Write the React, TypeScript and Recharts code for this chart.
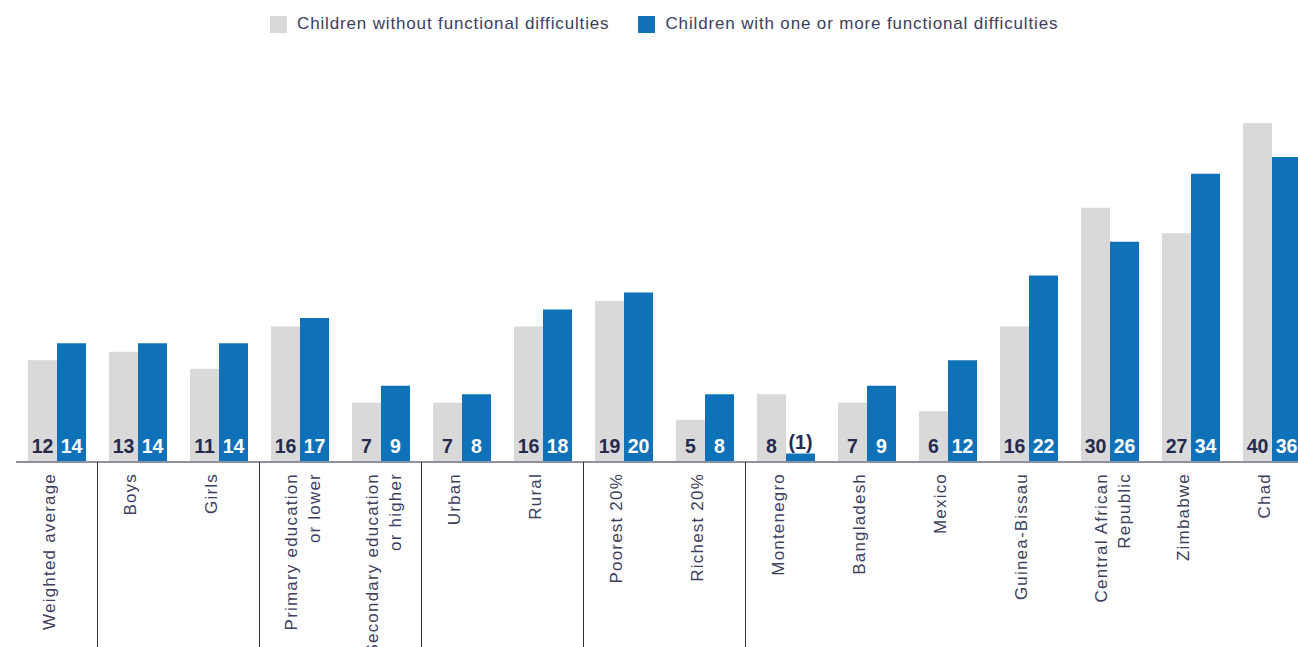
import { Bar, BarChart, LabelList, XAxis, YAxis } from "recharts";

const categories = [
  "Weighted average",
  "Boys",
  "Girls",
  "Primary education\nor lower",
  "Secondary education\nor higher",
  "Urban",
  "Rural",
  "Poorest 20%",
  "Richest 20%",
  "Montenegro",
  "Bangladesh",
  "Mexico",
  "Guinea-Bissau",
  "Central African\nRepublic",
  "Zimbabwe",
  "Chad",
];
const withoutDifficulties = [12, 13, 11, 16, 7, 7, 16, 19, 5, 8, 7, 6, 16, 30, 27, 40];
const withDifficulties = [14, 14, 14, 17, 9, 8, 18, 20, 8, 1, 9, 12, 22, 26, 34, 36];
// categories that open a new group (a divider is drawn to their left)
const groupStarts = [1, 3, 5, 7, 9];

const GREY = "#d9d9d9";
const BLUE = "#0f72b9";
const NAVY = "#262b4e";
const TEXT = "#3c405c";
const FONT = '"Liberation Sans", Arial, sans-serif';
const BAND = 81;

const data = categories.map((name, i) => ({
  name,
  without: withoutDifficulties[i],
  with: withDifficulties[i],
}));

const CategoryTick = (props: any) => {
  const { x, y, payload, index } = props;
  const lines = String(payload.value).split("\n");
  const sepX = Math.round(x - BAND / 2) + 0.5;
  return (
    <g>
      {groupStarts.includes(index) && (
        <line x1={sepX} x2={sepX} y1={y} y2={660} stroke="#2b2f4f" strokeWidth={1} />
      )}
      <text
        transform={`translate(${x},${y + 11}) rotate(-90)`}
        textAnchor="end"
        fontFamily={FONT}
        fontSize={17}
        letterSpacing={1.2}
        fill={TEXT}
      >
        {lines.map((l, i) => (
          <tspan key={i} x={0} dy={i === 0 ? (lines.length > 1 ? -3 : -2) : 23}>
            {l}
          </tspan>
        ))}
      </text>
    </g>
  );
};

const valueLabel = (color: string) => (props: any) => {
  const { x, y, width, height, value } = props;
  const small = height < 20;
  return (
    <text
      x={x + width / 2}
      y={small ? y - 5 : y + height - 9}
      textAnchor="middle"
      fontFamily={FONT}
      fontWeight="bold"
      fontSize={19.5}
      fill={small ? NAVY : color}
    >
      {small ? `(${value})` : value}
    </text>
  );
};

const LegendItem = ({ color, label }: { color: string; label: string }) => (
  <div style={{ display: "flex", alignItems: "center", marginRight: 29 }}>
    <div style={{ width: 17, height: 17, background: color, marginRight: 10 }} />
    <span style={{ fontFamily: FONT, fontSize: 17, letterSpacing: 0.85, color: TEXT }}>{label}</span>
  </div>
);

export default function App() {
  return (
    <div
      style={{
        position: "fixed",
        left: 0,
        top: 0,
        width: 1298,
        height: 647,
        overflow: "hidden",
        background: "#fff",
      }}
    >
      <div style={{ position: "absolute", left: 270, top: 14, display: "flex" }}>
        <LegendItem color={GREY} label="Children without functional difficulties" />
        <LegendItem color={BLUE} label="Children with one or more functional difficulties" />
      </div>
      <BarChart
        width={1320}
        height={647}
        data={data}
        margin={{ top: 123, right: 8, left: 16, bottom: 0 }}
        barSize={29}
        barGap={0}
      >
        <XAxis
          dataKey="name"
          interval={0}
          height={185}
          tickSize={0}
          tickMargin={0}
          tickLine={false}
          axisLine={{ stroke: "#8d90a5", strokeWidth: 2 }}
          tick={<CategoryTick />}
        />
        <YAxis hide domain={[0, 40]} />
        <Bar dataKey="without" fill={GREY} isAnimationActive={false}>
          <LabelList dataKey="without" content={valueLabel(NAVY)} />
        </Bar>
        <Bar dataKey="with" fill={BLUE} isAnimationActive={false}>
          <LabelList dataKey="with" content={valueLabel("#ffffff")} />
        </Bar>
      </BarChart>
    </div>
  );
}
